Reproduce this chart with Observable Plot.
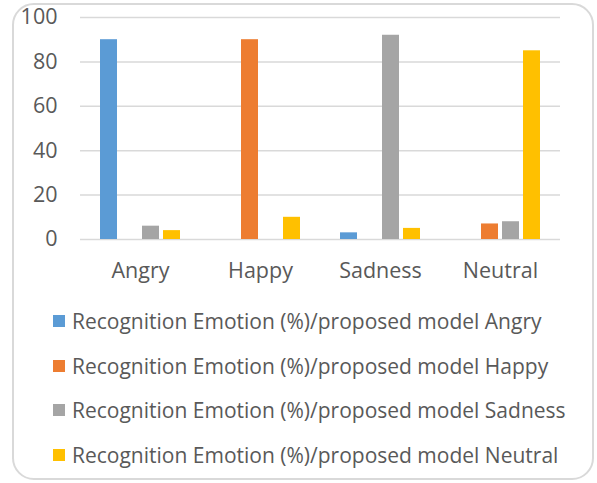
<!DOCTYPE html>
<html>
<head>
<meta charset="utf-8">
<script src="https://cdn.jsdelivr.net/npm/d3@7"></script>
<script src="https://cdn.jsdelivr.net/npm/@observablehq/plot@0.6"></script>
<style>
  html, body { margin: 0; padding: 0; background: #fff; }
  #wrap { position: relative; width: 597px; height: 483px; overflow: hidden; font-family: "Open Sans", sans-serif; color: #595959; }
  #frame { position: absolute; left: 12px; top: 3px; width: 582px; height: 477px; border: 2px solid #d9d9d9; border-radius: 22px; box-sizing: border-box; }
  #chart { position: absolute; left: 0; top: 0; }
  #legend { position: absolute; left: 53px; top: 0; }
  .item { position: absolute; left: 0; white-space: nowrap; font-size: 21px; line-height: 24px; height: 24px; display: flex; align-items: center; }
  .sw { width: 12px; height: 12px; margin-right: 7px; display: inline-block; }
</style>
</head>
<body>
<div id="wrap">
  <div id="frame"></div>
  <div id="chart"></div>
  <div id="legend"></div>
</div>
<script>
const categories = ["Angry", "Happy", "Sadness", "Neutral"];
const seriesNames = [
  "Recognition Emotion (%)/proposed model Angry",
  "Recognition Emotion (%)/proposed model Happy",
  "Recognition Emotion (%)/proposed model Sadness",
  "Recognition Emotion (%)/proposed model Neutral"
];
const seriesColors = ["#5b9bd5", "#ed7d31", "#a5a5a5", "#ffc000"];
const angryValues = [90, 0, 3, 0];
const happyValues = [0, 90, 0, 7];
const sadnessValues = [6, 0, 92, 8];
const neutralValues = [4, 10, 5, 85];
const yTicks = [0, 20, 40, 60, 80, 100];

const allValues = [angryValues, happyValues, sadnessValues, neutralValues];
const rows = [];
categories.forEach((c, i) => {
  seriesNames.forEach((s, j) => {
    rows.push({category: c, series: s, value: allValues[j][i]});
  });
});

const chart = Plot.plot({
  width: 597,
  height: 290,
  marginLeft: 79,
  marginRight: 37,
  marginTop: 17,
  marginBottom: 51,
  style: {fontFamily: "Open Sans", fontSize: "21.5px", color: "#595959", background: "transparent"},
  fx: {domain: categories, paddingInner: 0, paddingOuter: 0, label: null},
  x: {domain: seriesNames, axis: null, paddingInner: 0.2, paddingOuter: 0.85},
  y: {domain: [0, 100], axis: null},
  color: {domain: seriesNames, range: seriesColors},
  marks: [
    Plot.gridY(yTicks, {stroke: "#d9d9d9", strokeOpacity: 1, strokeWidth: 1.5}),
    Plot.barY(rows.filter(d => d.value > 0), {fx: "category", x: "series", y: "value", fill: "series"}),
    Plot.axisY(yTicks, {tickSize: 0, tickPadding: 23, label: null, fill: "#595959"}),
    Plot.axisFx({anchor: "bottom", tickSize: 0, tickPadding: 23, label: null, fill: "#595959"})
  ]
});
document.getElementById("chart").appendChild(chart);

const legend = document.getElementById("legend");
const rowCenters = [321, 366, 410, 455];
seriesNames.forEach((s, i) => {
  const item = document.createElement("div");
  item.className = "item";
  item.style.top = (rowCenters[i] - 12) + "px";
  const sw = document.createElement("span");
  sw.className = "sw";
  sw.style.background = seriesColors[i];
  item.appendChild(sw);
  const t = document.createElement("span");
  t.textContent = s;
  item.appendChild(t);
  legend.appendChild(item);
});
</script>
</body>
</html>
